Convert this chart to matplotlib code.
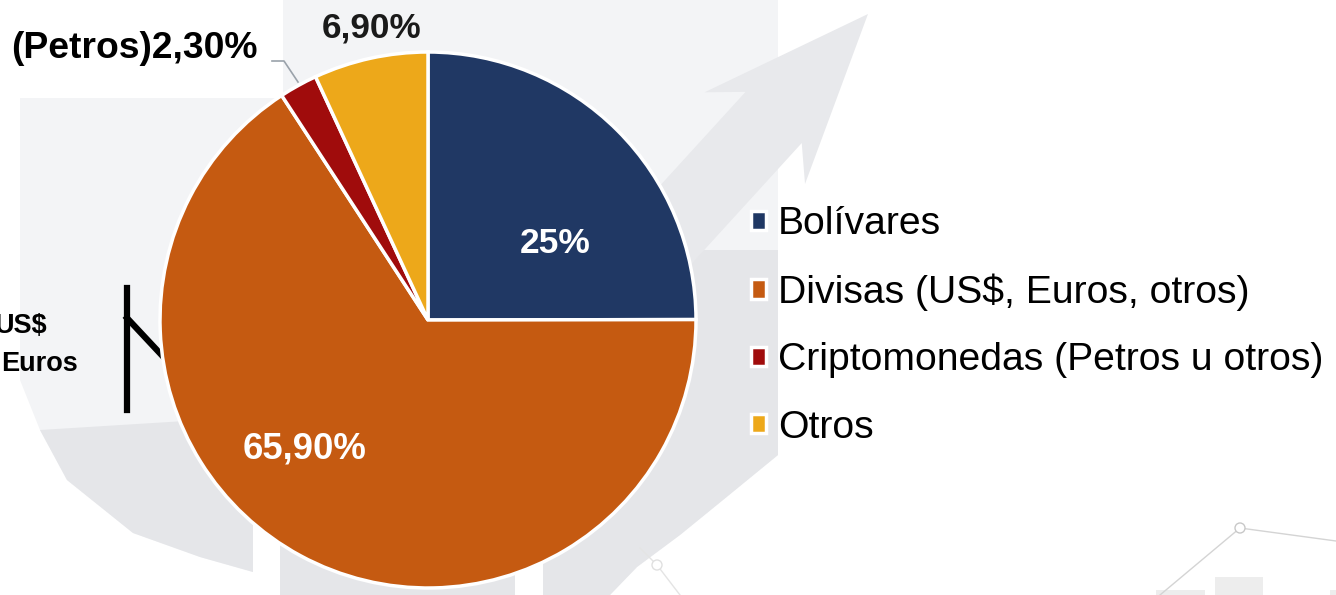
import numpy as np
import matplotlib
matplotlib.use("Agg")
import matplotlib.pyplot as plt
from matplotlib.patches import Polygon, Rectangle, Circle
from matplotlib.lines import Line2D

plt.rcParams["font.family"] = ["Liberation Sans", "DejaVu Sans"]

categories = ["Bolívares", "Divisas (US$, Euros, otros)", "Criptomonedas (Petros u otros)", "Otros"]
values = [25.0, 65.9, 2.3, 6.9]
value_labels = ["25%", "65,90%", "2,30%", "6,90%"]
colors = ["#203864", "#C55A11", "#A00C0C", "#EDA81A"]

W, H = 1336, 595
fig = plt.figure(figsize=(W / 100, H / 100), dpi=100)
fig.patch.set_facecolor("white")

# background watermark (pixel coords, y down)
bg = fig.add_axes([0, 0, 1, 1], zorder=0)
bg.set_xlim(0, W)
bg.set_ylim(H, 0)
bg.axis("off")

light = "#F3F4F6"
mid = "#E5E6E9"
left_arc = [(20, 380), (40, 430), (67, 480), (133, 533), (200, 557), (253, 572), (262, 595)]
right_arc = [(610, 595), (637, 567), (680, 535), (723, 500), (778, 455)]
bg.add_patch(Polygon([(283, 0), (778, 0)] + right_arc[::-1] + left_arc[::-1] + [(20, 98), (283, 98)],
                     closed=True, fc=light, ec="none"))
bg.add_patch(Polygon([(40, 430), (250, 417), (600, 417), (640, 250), (778, 250)] + right_arc[::-1]
                     + left_arc[::-1][:-1], closed=True, fc=mid, ec="none"))
bg.add_patch(Rectangle((253, 440), 27, 155, fc="white", ec="none"))
bg.add_patch(Rectangle((515, 540), 28, 55, fc="white", ec="none"))

# arrow
tip = np.array([868.0, 14.0])
d = np.array([-0.674, 0.739])
p = np.array([0.739, 0.674])
pts = [tip,
       tip + 168 * d - 68 * p,
       tip + 140 * d - 38 * p,
       tip + 470 * d - 38 * p,
       tip + 470 * d + 38 * p,
       tip + 140 * d + 38 * p,
       tip + 168 * d + 68 * p]
bg.add_patch(Polygon(pts, closed=True, fc="#E8E9EC", ec="none"))

# bottom right deco
bg.add_patch(Rectangle((1156, 590), 49, 5, fc="#EDEDED", ec="none"))
bg.add_patch(Rectangle((1215, 577), 48, 18, fc="#EDEDED", ec="none"))
bg.add_patch(Rectangle((1330, 590), 6, 5, fc="#EDEDED", ec="none"))
bg.plot([1160, 1240, 1336], [595, 528, 541], color="#D4D4D4", lw=1)
bg.add_patch(Circle((1240, 528), 5, fc="white", ec="#C8C8C8", lw=1, zorder=3))
bg.plot([640, 657, 680], [548, 565, 595], color="#E4E4E4", lw=1)
bg.add_patch(Circle((657, 565), 5, fc="white", ec="#E0E0E0", lw=1, zorder=3))

# pie
ax = fig.add_axes([160 / W, 7 / H, 536 / W, 536 / H], zorder=2)
ax.patch.set_alpha(0)
wedges, _ = ax.pie(values, colors=colors, startangle=90, counterclock=False, radius=1,
                   wedgeprops=dict(edgecolor="white", linewidth=2.5))
ax.set_xlim(-1, 1)
ax.set_ylim(-1, 1)
ax.set_aspect("auto")

ax.text(0.474, 0.287, value_labels[0], color="white", fontsize=25.5, fontweight="bold",
        ha="center", va="center")
ax.text(-0.459, -0.481, value_labels[1], color="white", fontsize=26.3, fontweight="bold",
        ha="center", va="center")
ax.text(-0.209, 1.09, value_labels[3], color="#1a1a1a", fontsize=25.3, fontweight="bold",
        ha="center", va="center", clip_on=False)
ax.text(-0.634, 1.012, "(Petros)" + value_labels[2], color="black", fontsize=26.8, fontweight="bold",
        ha="right", va="center", clip_on=False)

# leader line for 2,30%
fig.add_artist(Line2D(np.array([272, 284, 298]) / W, 1 - np.array([61, 61, 82]) / H,
                      color="#9AA2AA", lw=1.2))

# hand-drawn marks on the left
fig.add_artist(Line2D([127 / W, 127 / W], [1 - 288 / H, 1 - 410 / H], color="black", lw=4.5))
fig.add_artist(Line2D([127 / W, 170 / W], [1 - 318 / H, 1 - 364 / H], color="black", lw=4.5))
fig.text(47 / W, 1 - 326 / H, "US$", fontsize=19.5, fontweight="bold", ha="right", va="center")
fig.text(78 / W, 1 - 364 / H, "Euros", fontsize=19.5, fontweight="bold", ha="right", va="center")

leg = ax.legend(wedges, categories, loc="center left", bbox_to_anchor=(751 / W, 1 - 326 / H),
                bbox_transform=fig.transFigure, frameon=False, fontsize=28.2,
                handlelength=0.38, handleheight=0.38, handletextpad=0.3,
                labelspacing=0.8, borderpad=0, borderaxespad=0)

fig.savefig("out.png", dpi=100, facecolor="white")
